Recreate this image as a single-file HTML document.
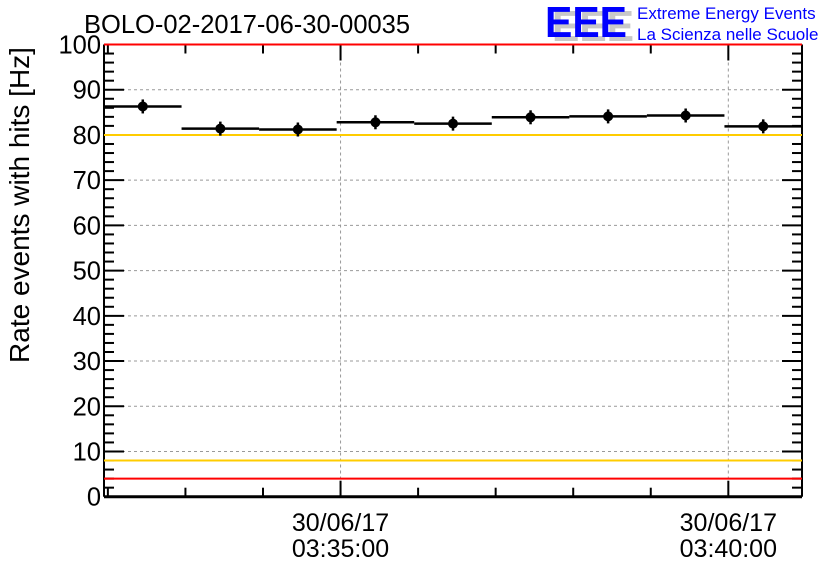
<!DOCTYPE html>
<html><head><meta charset="utf-8"><style>
html,body{margin:0;padding:0;background:#fff;}
svg{display:block;font-family:"Liberation Sans",sans-serif;}
</style></head><body>
<svg id="chart" width="836" height="572" viewBox="0 0 836 572">
<text x="84" y="33" font-size="25.5" fill="#000">BOLO-02-2017-06-30-00035</text>
<g>
<text x="552" y="41" font-size="44" font-weight="bold" fill="#c8c8c8" textLength="82" lengthAdjust="spacingAndGlyphs">EEE</text>
<text x="545" y="37" font-size="44" font-weight="bold" fill="#0000ff" textLength="82" lengthAdjust="spacingAndGlyphs">EEE</text>
<text x="637" y="19" font-size="17" fill="#0000ff">Extreme Energy Events</text>
<text x="637" y="40" font-size="17" fill="#0000ff">La Scienza nelle Scuole</text>
</g>
<text transform="translate(29,205) rotate(-90)" text-anchor="middle" font-size="28" fill="#000">Rate events with hits [Hz]</text>
<g id="grid"></g><g id="axes"></g><g id="refs"></g><g id="marks"></g>
</svg>
<script>
const binStarts = [0,60,120,180,240,300,360,420,480];
const rates = [86.3,81.4,81.2,82.8,82.5,83.9,84.1,84.3,81.9];
const refLines = [100,80,8,4];
const refColors = ['#ff0000','#ffcc00','#ffcc00','#ff0000'];
const yTicks = [0,10,20,30,40,50,60,70,80,90,100];
const xMajorTimes = [183,483];
const xDateLabels = ['30/06/17','30/06/17'];
const xTimeLabels = ['03:35:00','03:40:00'];
const binWidth = 60;
const X0=104,X1=802,Y0=496.7,Y1=44.5,XMAX=540,YMAX=100;
const NS='http://www.w3.org/2000/svg';
function sx(t){return X0+(X1-X0)*t/XMAX;}
function sy(v){return Y0-(Y0-Y1)*v/YMAX;}
function mk(tag,attrs,parent){const e=document.createElementNS(NS,tag);for(const k in attrs)e.setAttribute(k,attrs[k]);parent.appendChild(e);return e;}
const grid=document.getElementById('grid'),axes=document.getElementById('axes'),refs=document.getElementById('refs'),marks=document.getElementById('marks');
yTicks.forEach(v=>{if(v>0&&v<100){const l=mk('line',{x1:X0,x2:X1,y1:sy(v),y2:sy(v),stroke:'#999','stroke-dasharray':'3,3','stroke-width':1},grid);

}});
xMajorTimes.forEach(t=>{const l=mk('line',{x1:sx(t),x2:sx(t),y1:Y1,y2:Y0,stroke:'#999','stroke-dasharray':'3,3','stroke-width':1},grid);

});
for(let v=0;v<=100;v+=2){const len=(v%10===0)?20:10;
mk('line',{x1:X0,x2:X0+len,y1:sy(v),y2:sy(v),stroke:'#000','stroke-width':2},axes);
mk('line',{x1:X1,x2:X1-len,y1:sy(v),y2:sy(v),stroke:'#000','stroke-width':2},axes);}
yTicks.forEach(v=>{const t=mk('text',{x:X0-3,y:sy(v)+9,'text-anchor':'end','font-size':25.5,fill:'#000'},axes);t.textContent=v;

});
for(let t=3;t<=XMAX;t+=60){const major=xMajorTimes.includes(t);const len=major?16:9;
mk('line',{x1:sx(t),x2:sx(t),y1:Y0,y2:Y0-len,stroke:'#000','stroke-width':2},axes);
mk('line',{x1:sx(t),x2:sx(t),y1:Y1,y2:Y1+len,stroke:'#000','stroke-width':2},axes);}
xMajorTimes.forEach((t,i)=>{const a=mk('text',{x:sx(t),y:531,'text-anchor':'middle','font-size':25,fill:'#000'},axes);a.textContent=xDateLabels[i];


const b=mk('text',{x:sx(t),y:557,'text-anchor':'middle','font-size':25,fill:'#000'},axes);b.textContent=xTimeLabels[i];

});
mk('line',{x1:X0,x2:X0,y1:Y1,y2:Y0,stroke:'#000','stroke-width':2},axes);
mk('line',{x1:X1,x2:X1,y1:Y1,y2:Y0,stroke:'#000','stroke-width':2},axes);
mk('line',{x1:X0,x2:X1,y1:Y0,y2:Y0,stroke:'#000','stroke-width':3},axes);
refLines.forEach((v,i)=>{const l=mk('line',{x1:X0,x2:X1,y1:sy(v),y2:sy(v),stroke:refColors[i],'stroke-width':2},refs);

});
binStarts.forEach((s,i)=>{const g=mk('g',{},marks);


const y=sy(rates[i]),cx=sx(s+binWidth/2);
mk('line',{x1:sx(s),x2:sx(s+binWidth),y1:y,y2:y,stroke:'#000','stroke-width':2.5},g);
mk('line',{x1:cx,x2:cx,y1:y-7,y2:y+7,stroke:'#000','stroke-width':2.5},g);
mk('circle',{cx:cx,cy:y,r:5,fill:'#000'},g);});
</script>
</body></html>
